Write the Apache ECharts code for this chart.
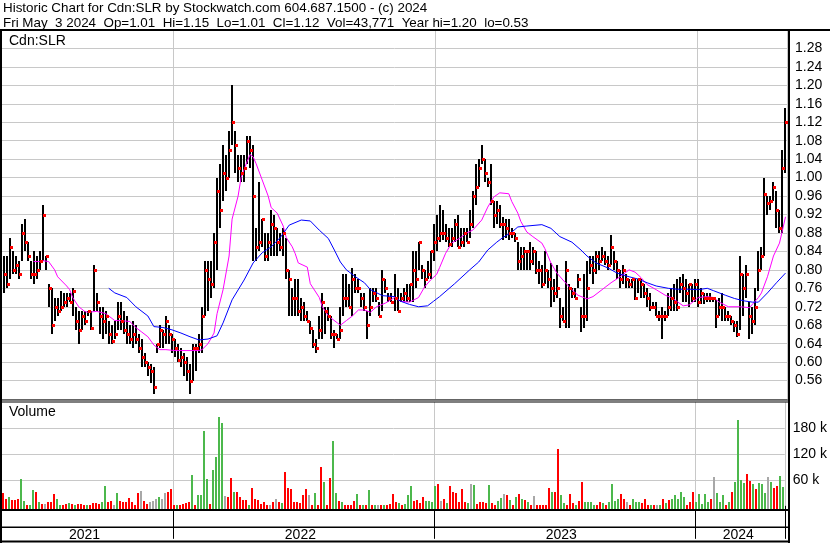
<!DOCTYPE html>
<html><head><meta charset="utf-8">
<script src="https://cdn.jsdelivr.net/npm/echarts@6/dist/echarts.min.js"></script>
<style>html,body{margin:0;padding:0;background:#fff}#c{width:830px;height:543px}</style>
</head><body><div id="c"></div>
<script>
// ---- data (each slot = about three trading days) ----
const years = ['2021','2022','2023','2024'];
const periodsPerYear = [57, 87, 87, 30];

const high = [
0.83,0.83,0.87,0.84,0.83,0.82,0.90,0.91,0.86,0.82,
0.84,0.83,0.84,0.94,0.83,0.77,0.76,0.74,0.74,0.755,
0.75,0.75,0.75,0.76,0.72,0.71,0.71,0.71,0.71,0.71,
0.81,0.75,0.72,0.72,0.71,0.69,0.68,0.69,0.73,0.73,
0.71,0.70,0.68,0.69,0.68,0.66,0.65,0.62,0.60,0.595,
0.59,0.64,0.68,0.67,0.70,0.68,0.66,0.65,0.64,0.63,
0.62,0.61,0.595,0.64,0.64,0.66,0.72,0.82,0.82,0.82,
0.88,1.00,1.03,1.07,1.05,1.10,1.20,1.10,1.05,1.05,
1.05,1.09,1.09,1.07,0.89,0.99,0.91,0.88,0.88,0.93,
0.92,0.89,0.88,0.89,0.87,0.80,0.76,0.78,0.78,0.74,
0.73,0.71,0.69,0.67,0.65,0.70,0.75,0.72,0.72,0.70,
0.67,0.66,0.72,0.79,0.79,0.77,0.805,0.79,0.78,0.75,
0.75,0.71,0.76,0.76,0.76,0.73,0.80,0.78,0.75,0.75,
0.79,0.76,0.75,0.76,0.77,0.77,0.84,0.84,0.86,0.81,
0.80,0.82,0.84,0.90,0.92,0.94,0.93,0.90,0.89,0.89,
0.91,0.92,0.89,0.89,0.89,0.93,0.97,1.03,1.04,1.07,
1.04,1.00,1.03,0.95,0.95,0.94,0.915,0.91,0.91,0.89,
0.88,0.86,0.85,0.85,0.84,0.86,0.85,0.84,0.82,0.81,
0.84,0.80,0.815,0.78,0.81,0.74,0.72,0.82,0.77,0.76,
0.76,0.79,0.72,0.79,0.82,0.83,0.83,0.84,0.84,0.85,
0.84,0.83,0.875,0.84,0.82,0.80,0.81,0.79,0.78,0.78,
0.78,0.78,0.78,0.77,0.76,0.75,0.73,0.73,0.71,0.72,
0.71,0.75,0.76,0.77,0.78,0.785,0.79,0.78,0.77,0.77,
0.78,0.78,0.76,0.75,0.75,0.75,0.74,0.735,0.74,0.75,
0.72,0.71,0.70,0.69,0.69,0.83,0.79,0.81,0.73,0.72,
0.76,0.84,0.85,1.00,0.96,0.96,0.99,0.97,0.93,1.06,1.15];

const low = [
0.75,0.76,0.78,0.79,0.79,0.78,0.82,0.84,0.82,0.78,
0.77,0.78,0.80,0.82,0.80,0.72,0.66,0.69,0.70,0.71,
0.72,0.72,0.73,0.70,0.67,0.64,0.67,0.68,0.70,0.67,
0.71,0.71,0.66,0.65,0.66,0.64,0.64,0.65,0.67,0.67,
0.66,0.64,0.64,0.63,0.64,0.62,0.59,0.59,0.57,0.555,
0.53,0.62,0.63,0.63,0.64,0.64,0.62,0.61,0.60,0.59,
0.57,0.56,0.53,0.56,0.58,0.62,0.62,0.70,0.71,0.74,
0.76,0.80,0.89,0.95,0.97,1.00,1.07,1.01,0.99,0.99,
0.99,1.03,1.02,0.82,0.82,0.84,0.85,0.82,0.82,0.83,
0.83,0.83,0.84,0.83,0.78,0.70,0.70,0.70,0.70,0.69,
0.69,0.69,0.66,0.63,0.62,0.65,0.65,0.66,0.69,0.65,
0.63,0.65,0.65,0.70,0.72,0.72,0.70,0.75,0.75,0.72,
0.71,0.65,0.70,0.73,0.73,0.70,0.71,0.75,0.73,0.73,
0.71,0.71,0.73,0.73,0.73,0.73,0.73,0.76,0.80,0.78,
0.76,0.78,0.78,0.82,0.84,0.86,0.865,0.86,0.85,0.85,
0.86,0.85,0.85,0.85,0.86,0.87,0.89,0.94,0.98,1.03,
0.99,0.98,0.94,0.89,0.90,0.89,0.865,0.87,0.865,0.87,
0.86,0.80,0.80,0.80,0.80,0.80,0.81,0.79,0.77,0.76,
0.77,0.76,0.72,0.73,0.74,0.675,0.69,0.675,0.675,0.74,
0.74,0.76,0.665,0.675,0.69,0.79,0.77,0.79,0.80,0.82,
0.81,0.80,0.81,0.80,0.78,0.76,0.77,0.76,0.76,0.76,
0.735,0.75,0.74,0.74,0.72,0.71,0.72,0.70,0.69,0.65,
0.69,0.70,0.71,0.71,0.71,0.75,0.73,0.73,0.72,0.73,
0.73,0.72,0.725,0.725,0.73,0.73,0.73,0.675,0.70,0.69,
0.69,0.69,0.68,0.665,0.655,0.67,0.70,0.74,0.65,0.66,
0.68,0.755,0.80,0.83,0.92,0.93,0.95,0.89,0.88,0.88,1.01];

const close = [
0.79,0.77,0.85,0.80,0.81,0.79,0.88,0.86,0.83,0.79,
0.79,0.80,0.82,0.92,0.83,0.76,0.68,0.72,0.71,0.72,
0.73,0.74,0.73,0.755,0.69,0.67,0.70,0.69,0.71,0.675,
0.80,0.73,0.70,0.69,0.70,0.66,0.645,0.66,0.70,0.69,
0.67,0.66,0.65,0.66,0.65,0.63,0.61,0.60,0.59,0.58,
0.545,0.64,0.67,0.66,0.69,0.66,0.65,0.63,0.605,0.61,
0.60,0.58,0.56,0.63,0.63,0.64,0.70,0.80,0.78,0.77,
0.86,0.97,0.93,1.01,1.00,1.06,1.12,1.07,1.02,1.01,
1.02,1.08,1.06,0.96,0.85,0.86,0.91,0.83,0.86,0.90,
0.89,0.86,0.85,0.88,0.80,0.78,0.74,0.74,0.71,0.72,
0.70,0.69,0.675,0.64,0.63,0.67,0.73,0.71,0.70,0.66,
0.66,0.65,0.67,0.74,0.74,0.72,0.78,0.76,0.76,0.74,
0.72,0.68,0.72,0.75,0.74,0.70,0.78,0.76,0.74,0.73,
0.74,0.71,0.74,0.75,0.74,0.77,0.80,0.78,0.86,0.80,
0.78,0.79,0.84,0.86,0.87,0.88,0.88,0.87,0.855,0.87,
0.90,0.85,0.86,0.88,0.86,0.90,0.96,0.98,1.02,1.04,
1.01,0.99,0.95,0.92,0.93,0.90,0.90,0.89,0.88,0.88,
0.87,0.82,0.83,0.84,0.84,0.82,0.84,0.80,0.80,0.77,
0.80,0.78,0.76,0.75,0.76,0.70,0.69,0.80,0.76,0.75,
0.74,0.78,0.70,0.70,0.76,0.81,0.80,0.83,0.82,0.83,
0.82,0.81,0.85,0.82,0.80,0.78,0.80,0.78,0.77,0.78,
0.74,0.78,0.77,0.75,0.74,0.72,0.72,0.70,0.70,0.70,
0.70,0.72,0.74,0.73,0.72,0.77,0.76,0.75,0.77,0.74,
0.77,0.73,0.75,0.74,0.74,0.74,0.74,0.70,0.72,0.72,
0.70,0.70,0.69,0.68,0.66,0.79,0.76,0.79,0.70,0.69,
0.72,0.80,0.83,0.965,0.945,0.95,0.98,0.93,0.89,1.02,1.12];

// volume in thousands of shares
const volumeK = [
30,17,21,14,14,17,62,11,3,3,
37,31,10,5,5,9,10,27,17,2,
3,4,6,4,3,5,4,2,2,2,
6,6,4,9,45,10,11,2,29,11,
9,10,19,8,2,29,34,11,4,10,
11,17,21,17,30,31,40,2,2,2,
4,6,8,71,2,25,25,174,62,5,
83,114,207,192,23,20,65,33,31,21,
13,14,3,42,16,14,5,10,2,2,
10,17,10,6,78,41,39,10,8,6,
25,39,25,2,29,2,91,56,3,64,
151,29,11,9,2,3,2,11,27,3,
2,3,37,2,1,3,2,2,2,5,
27,9,6,2,5,25,47,11,14,6,
21,11,11,10,45,50,11,17,7,45,
33,29,10,39,10,7,50,48,5,8,
8,6,48,6,2,11,19,27,25,13,
2,21,27,17,13,10,2,23,2,2,
3,3,42,31,31,131,25,6,2,27,
6,3,11,55,10,8,10,2,2,8,
6,3,10,50,11,16,27,17,8,3,
16,8,10,6,17,1,1,2,3,3,
17,6,13,17,25,17,31,21,3,9,
31,9,27,4,27,10,16,66,29,10,
25,2,10,31,55,200,60,52,74,58,
50,38,52,50,30,67,55,42,47,69,43.771];

// 1 = up day, -1 = down day, 0 = unchanged
const volDir = [
-1,-1,1,-1,-1,-1,1,1,-1,1,
1,-1,1,-1,0,-1,-1,-1,1,1,
-1,-1,1,-1,1,-1,-1,-1,1,-1,
-1,-1,-1,1,1,-1,-1,0,1,-1,
-1,-1,-1,-1,-1,-1,0,-1,-1,0,
0,0,1,0,0,-1,-1,-1,1,-1,
-1,-1,-1,1,-1,1,1,1,1,-1,
1,1,1,1,0,-1,-1,1,-1,-1,
-1,-1,1,-1,-1,-1,-1,-1,-1,0,
-1,0,-1,1,-1,-1,-1,-1,-1,-1,
-1,-1,0,-1,1,-1,-1,1,-1,-1,
1,1,-1,1,-1,-1,-1,-1,1,-1,
1,-1,1,-1,1,0,-1,1,-1,-1,
-1,-1,1,-1,1,1,1,-1,-1,-1,
-1,1,1,1,1,-1,0,-1,1,-1,
-1,-1,-1,-1,-1,1,0,1,-1,-1,
-1,-1,1,-1,-1,1,1,0,-1,1,
-1,1,-1,1,-1,1,-1,0,-1,-1,
-1,-1,-1,1,-1,-1,1,1,-1,-1,
-1,1,-1,-1,1,1,1,1,-1,-1,
1,-1,1,1,1,1,-1,-1,0,-1,
1,1,1,-1,-1,-1,1,-1,0,1,
-1,1,-1,1,1,1,1,1,-1,-1,
-1,1,1,1,1,1,-1,0,1,1,
1,-1,1,-1,1,1,1,1,-1,-1,
1,-1,1,1,1,0,1,-1,-1,1,1];

// moving averages: [slot index, price]
const maShort = [[10,0.818],[12,0.818],[13,0.82],[15,0.818],[17,0.80],[18,0.785],[21,0.765],[22,0.757],[23,0.74],[25,0.72],[27,0.71],[28,0.708],[31,0.71],[34,0.705],[37,0.69],[39,0.69],[42,0.688],[44,0.675],[46,0.665],[48,0.655],[50,0.637],[52,0.627],[54,0.627],[57,0.625],[61,0.625],[65,0.625],[66,0.627],[68,0.64],[70,0.663],[71,0.705],[73,0.757],[75,0.83],[76,0.91],[78,0.96],[79,1.00],[81,1.035],[82,1.05],[83,1.045],[84,1.03],[86,0.995],[88,0.96],[89,0.935],[91,0.923],[93,0.895],[94,0.87],[96,0.85],[97,0.835],[98,0.815],[101,0.806],[102,0.77],[105,0.74],[106,0.72],[108,0.70],[111,0.685],[112,0.68],[114,0.69],[116,0.70],[118,0.713],[120,0.713],[122,0.708],[124,0.72],[127,0.728],[130,0.74],[132,0.732],[135,0.73],[138,0.74],[140,0.763],[142,0.778],[144,0.79],[145,0.805],[147,0.836],[149,0.858],[152,0.87],[154,0.88],[156,0.886],[159,0.908],[161,0.936],[163,0.958],[165,0.967],[168,0.965],[169,0.948],[171,0.923],[172,0.905],[174,0.882],[176,0.872],[179,0.858],[180,0.846],[182,0.815],[184,0.793],[186,0.778],[189,0.757],[191,0.745],[194,0.737],[196,0.742],[199,0.757],[202,0.772],[205,0.785],[208,0.80],[210,0.795],[212,0.783],[214,0.768],[217,0.757],[220,0.745],[222,0.74],[224,0.731],[226,0.722],[228,0.724],[231,0.74],[234,0.742],[236,0.74],[238,0.73],[241,0.72],[245,0.72],[248,0.718],[251,0.74],[252,0.75],[254,0.785],[256,0.83],[258,0.858],[259,0.886],[260,0.915]];
const maLong = [[35,0.76],[37,0.75],[41,0.74],[44,0.72],[48,0.70],[50,0.677],[53,0.675],[56,0.67],[59,0.663],[62,0.655],[65,0.648],[68,0.65],[71,0.657],[73,0.685],[76,0.735],[80,0.778],[83,0.815],[86,0.837],[89,0.85],[92,0.87],[95,0.897],[99,0.908],[102,0.906],[105,0.886],[108,0.868],[110,0.843],[112,0.817],[114,0.80],[117,0.785],[120,0.772],[122,0.757],[126,0.744],[130,0.742],[132,0.732],[135,0.725],[138,0.72],[141,0.722],[143,0.732],[145,0.742],[150,0.77],[155,0.80],[158,0.817],[161,0.843],[164,0.86],[166,0.87],[169,0.882],[171,0.893],[174,0.895],[179,0.898],[182,0.89],[185,0.872],[189,0.86],[192,0.843],[194,0.83],[197,0.815],[201,0.804],[204,0.793],[208,0.785],[211,0.78],[214,0.772],[217,0.765],[221,0.76],[224,0.758],[228,0.758],[231,0.757],[234,0.76],[236,0.755],[240,0.745],[243,0.738],[246,0.733],[249,0.73],[251,0.73],[254,0.75],[257,0.772],[260,0.793]];

const priceMin = 0.52, priceMax = 1.32, priceStep = 0.04;
const volumeTicks = [60000, 120000, 180000];

const headerLine1 = 'Historic Chart for Cdn:SLR by Stockwatch.com 604.687.1500 - (c) 2024';
const headerLine2 = 'Fri May  3 2024  Op=1.01  Hi=1.15  Lo=1.01  Cl=1.12  Vol=43,771  Year hi=1.20  lo=0.53';

// ---- build ----
const cats = [];
const yearStart = new Set();
const yearLabelIdx = new Set();
years.forEach((y, yi) => {
  const start = cats.length;
  yearStart.add(start);
  yearLabelIdx.add(start + Math.floor(periodsPerYear[yi] / 2) - 1);
  for (let i = 0; i < periodsPerYear[yi]; i++) cats.push(y + '-' + i);
});
const ohlc = high.map((h, i) => [i, h, low[i], close[i]]);
const closes = close.map((c, i) => [i, c]);
const vol = volumeK.map((v, i) => [i, v * 1000, volDir[i]]);

const FONT = '"Liberation Sans", Arial, sans-serif';
const GRID_L = 2, GRID_W = 785;

const chart = echarts.init(document.getElementById('c'), null, {renderer: 'canvas', width: 830, height: 543});
chart.setOption({
  animation: false,
  backgroundColor: '#fff',
  grid: [
    {left: GRID_L, width: GRID_W, top: 30, height: 369},
    {left: GRID_L, width: GRID_W, top: 402, height: 107.5}
  ],
  xAxis: [
    {type: 'category', gridIndex: 0, data: cats, boundaryGap: true,
     axisLine: {show: false}, axisTick: {show: false}, axisLabel: {show: false},
     splitLine: {show: true, interval: (i) => yearStart.has(i) && i > 0, lineStyle: {color: '#c8c8c8', width: 1}}},
    {type: 'category', gridIndex: 1, data: cats, boundaryGap: true,
     axisLine: {show: false},
     axisTick: {show: true, interval: (i) => yearStart.has(i) && i > 0, length: 33, lineStyle: {color: '#000', width: 1}},
     axisLabel: {show: true, interval: (i) => yearLabelIdx.has(i), formatter: (v) => v.split('-')[0],
                 margin: 19, fontSize: 14, fontFamily: FONT, color: '#000'},
     splitLine: {show: true, interval: (i) => yearStart.has(i) && i > 0, lineStyle: {color: '#c8c8c8', width: 1}}}
  ],
  yAxis: [
    {type: 'value', gridIndex: 0, position: 'right', min: priceMin, max: priceMax, interval: priceStep,
     axisLine: {show: false}, axisTick: {show: false},
     axisLabel: {showMinLabel: false, showMaxLabel: false, formatter: (v) => v.toFixed(2), margin: 8,
                 fontSize: 14, fontFamily: FONT, color: '#000'},
     splitLine: {show: true, lineStyle: {color: '#c8c8c8', width: 1}}},
    {type: 'value', gridIndex: 1, position: 'right', min: -8500, max: 241000,
     axisLine: {show: false}, axisTick: {show: false, customValues: volumeTicks},
     axisLabel: {customValues: volumeTicks, formatter: (v) => (v / 1000) + ' k', margin: 8,
                 fontSize: 14, fontFamily: FONT, color: '#000'},
     splitLine: {show: true, lineStyle: {color: '#c8c8c8', width: 1}}}
  ],
  series: [
    {type: 'custom', xAxisIndex: 0, yAxisIndex: 0, data: ohlc, encode: {x: 0, y: [1, 2, 3]}, z: 3,
     renderItem: (params, api) => {
       const k = api.value(0);
       const pH = api.coord([k, api.value(1)]);
       const pL = api.coord([k, api.value(2)]);
       const x = Math.round(pH[0]);
       const y0 = Math.round(pH[1]);
       const y1 = Math.round(pL[1]);
       return {type: 'rect', shape: {x: x - 1, y: y0, width: 2, height: Math.max(1, y1 - y0)}, style: {fill: '#000'}};
     }},
    {type: 'line', xAxisIndex: 0, yAxisIndex: 0, data: maShort, showSymbol: false, symbol: 'none', z: 4,
     lineStyle: {color: '#ff00ff', width: 1}},
    {type: 'line', xAxisIndex: 0, yAxisIndex: 0, data: maLong, showSymbol: false, symbol: 'none', z: 4,
     lineStyle: {color: '#0000ff', width: 1}},
    {type: 'custom', xAxisIndex: 0, yAxisIndex: 0, data: closes, encode: {x: 0, y: 1}, z: 5,
     renderItem: (params, api) => {
       const p = api.coord([api.value(0), api.value(1)]);
       return {type: 'rect', shape: {x: Math.round(p[0]), y: Math.round(p[1]) - 1, width: 3, height: 3}, style: {fill: '#ff0000'}};
     }},
    {type: 'custom', xAxisIndex: 1, yAxisIndex: 1, data: vol, encode: {x: 0, y: 1}, z: 3,
     renderItem: (params, api) => {
       const k = api.value(0);
       const d = api.value(2);
       const p = api.coord([k, api.value(1)]);
       const base = params.coordSys.y + params.coordSys.height;
       const x = Math.round(p[0]);
       const top = Math.round(p[1]);
       const color = d > 0 ? '#4cb84c' : (d < 0 ? '#ff0000' : '#a8a8a8');
       return {type: 'rect', shape: {x: x - 1, y: top, width: 2, height: Math.max(1, base - top)}, style: {fill: color}};
     }}
  ],
  graphic: [
    {type: 'text', left: 3, top: 2, style: {text: headerLine1, font: '13.4px ' + FONT, fill: '#000'}},
    {type: 'text', left: 3, top: 17, style: {text: headerLine2, font: '13.4px ' + FONT, fill: '#000'}},
    {type: 'text', left: 9, top: 34, style: {text: 'Cdn:SLR', font: '14px ' + FONT, fill: '#000'}, z: 10},
    {type: 'text', left: 9, top: 405, style: {text: 'Volume', font: '14px ' + FONT, fill: '#000'}, z: 10},
    {type: 'rect', shape: {x: 0, y: 29, width: 830, height: 2}, style: {fill: '#000'}, z: 10},
    {type: 'rect', shape: {x: 0, y: 29, width: 2, height: 514}, style: {fill: '#000'}, z: 10},
    {type: 'rect', shape: {x: 788, y: 29, width: 2, height: 514}, style: {fill: '#000'}, z: 10},
    {type: 'rect', shape: {x: 0, y: 399.5, width: 790, height: 1}, style: {fill: '#000'}, z: 10},
    {type: 'rect', shape: {x: 0, y: 401.5, width: 790, height: 1}, style: {fill: '#000'}, z: 10},
    {type: 'rect', shape: {x: 0, y: 509, width: 790, height: 2}, style: {fill: '#000'}, z: 10},
    {type: 'rect', shape: {x: 0, y: 526.5, width: 790, height: 1.5}, style: {fill: '#000'}, z: 10},
    {type: 'rect', shape: {x: 0, y: 540.5, width: 790, height: 2}, style: {fill: '#000'}, z: 10}
  ]
});
</script>
</body></html>
